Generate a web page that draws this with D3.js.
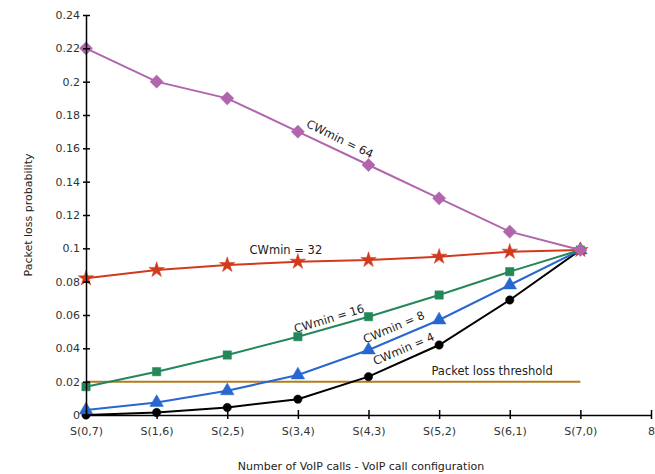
<!DOCTYPE html>
<html>
<head>
<meta charset="utf-8">
<script src="https://cdn.jsdelivr.net/npm/d3@7"></script>
<style>
  body { margin: 0; background: #fff; }
  text { font-family: "DejaVu Sans", sans-serif; }
</style>
</head>
<body>
<div id="vis"></div>
<script>
var width = 655, height = 474;
var margin = {top: 15, right: 4, bottom: 59, left: 86};

// data
var configs = ["S(0,7)", "S(1,6)", "S(2,5)", "S(3,4)", "S(4,3)", "S(5,2)", "S(6,1)", "S(7,0)"];
var xTicks = [0, 1, 2, 3, 4, 5, 6, 7, 8];
var yTicks = [0, 0.02, 0.04, 0.06, 0.08, 0.1, 0.12, 0.14, 0.16, 0.18, 0.2, 0.22, 0.24];
var cw64 = [0.22, 0.2, 0.19, 0.17, 0.15, 0.13, 0.11, 0.099];
var cw32 = [0.082, 0.087, 0.09, 0.092, 0.093, 0.095, 0.098, 0.099];
var cw16 = [0.017, 0.026, 0.036, 0.047, 0.059, 0.072, 0.086, 0.099];
var cw8 = [0.003, 0.0075, 0.0145, 0.024, 0.039, 0.057, 0.078, 0.099];
var cw4 = [0.0, 0.0015, 0.0045, 0.0095, 0.023, 0.042, 0.069, 0.099];
var threshold = 0.02;

var series = [
  {name: "CWmin = 64", values: cw64, color: "#b065ac", marker: d3.symbolDiamond2, size: 110,
   label: {x: 3.57, y: 0.1635, angle: 26}},
  {name: "CWmin = 32", values: cw32, color: "#d23a1e", marker: d3.symbolStar, size: 75,
   label: {x: 2.83, y: 0.0965, angle: 0}},
  {name: "CWmin = 16", values: cw16, color: "#23875a", marker: d3.symbolSquare, size: 70,
   label: {x: 3.46, y: 0.0555, angle: -17}},
  {name: "CWmin = 8", values: cw8, color: "#2767cf", marker: d3.symbolTriangle, size: 80,
   label: {x: 4.38, y: 0.0505, angle: -23}},
  {name: "CWmin = 4", values: cw4, color: "#000000", marker: d3.symbolCircle, size: 55,
   label: {x: 4.52, y: 0.0375, angle: -23}}
];

var x = d3.scaleLinear().domain([0, 8]).range([margin.left, width - margin.right]);
var y = d3.scaleLinear().domain([0, 0.24]).range([height - margin.bottom, margin.top]);

var svg = d3.select("#vis").append("svg")
  .attr("width", width).attr("height", height);

// threshold line
svg.append("line")
  .attr("x1", x(0)).attr("x2", x(7))
  .attr("y1", y(threshold)).attr("y2", y(threshold))
  .attr("stroke", "#b37b1e").attr("stroke-width", 2);
svg.append("text")
  .attr("x", x(5.75)).attr("y", y(threshold) - 7)
  .attr("text-anchor", "middle").attr("font-size", 11.5).attr("fill", "#222")
  .text("Packet loss threshold");

var line = d3.line().x(function(d, i) { return x(i); }).y(function(d) { return y(d); });

series.slice().reverse().forEach(function(s) {
  var g = svg.append("g");
  g.append("path").datum(s.values)
    .attr("d", line).attr("fill", "none")
    .attr("stroke", s.color).attr("stroke-width", 2);
  g.selectAll("path.m").data(s.values).enter().append("path")
    .attr("class", "m")
    .attr("transform", function(d, i) { return "translate(" + x(i) + "," + y(d) + ")"; })
    .attr("d", d3.symbol().type(s.marker).size(s.size))
    .attr("fill", s.color)
    .attr("stroke", s.color)
    .attr("stroke-width", 0.5);
  g.append("text")
    .attr("transform", "translate(" + x(s.label.x) + "," + y(s.label.y) + ") rotate(" + s.label.angle + ")")
    .attr("text-anchor", "middle").attr("font-size", 11.5).attr("fill", "#222")
    .text(s.name);
});

// axes
var xAxis = d3.axisBottom(x).tickValues(xTicks)
  .tickFormat(function(d) { return configs[d] || d; })
  .tickSizeInner(4).tickSizeOuter(0);
var gx = svg.append("g").attr("transform", "translate(0," + y(0) + ")").call(xAxis);
gx.select(".domain").attr("stroke", "#000").attr("stroke-width", 1.5);
gx.selectAll(".tick line").attr("y1", -5).attr("y2", 4).attr("stroke-width", 1.5);
gx.selectAll("text").attr("font-size", 11).attr("fill", "#333").attr("font-family", "DejaVu Sans").attr("dy", "1.2em");

var yAxis = d3.axisLeft(y).tickValues(yTicks)
  .tickFormat(function(d) { return d3.format("~g")(+d.toFixed(2)); })
  .tickSizeInner(3).tickSizeOuter(0);
var gy = svg.append("g").attr("transform", "translate(" + x(0) + ",0)").call(yAxis);
gy.select(".domain").attr("stroke", "#000").attr("stroke-width", 1.5);
gy.selectAll(".tick line").attr("x1", -3).attr("x2", 4).attr("stroke-width", 1.5);
gy.selectAll("text").attr("font-size", 11).attr("fill", "#333").attr("font-family", "DejaVu Sans");

// axis titles
svg.append("text")
  .attr("transform", "translate(32," + 215 + ") rotate(-90)")
  .attr("text-anchor", "middle").attr("font-size", 11).attr("fill", "#222")
  .text("Packet loss probability");
svg.append("text")
  .attr("x", 361).attr("y", 470)
  .attr("text-anchor", "middle").attr("font-size", 11).attr("fill", "#222")
  .text("Number of VoIP calls - VoIP call configuration");
</script>
</body>
</html>
